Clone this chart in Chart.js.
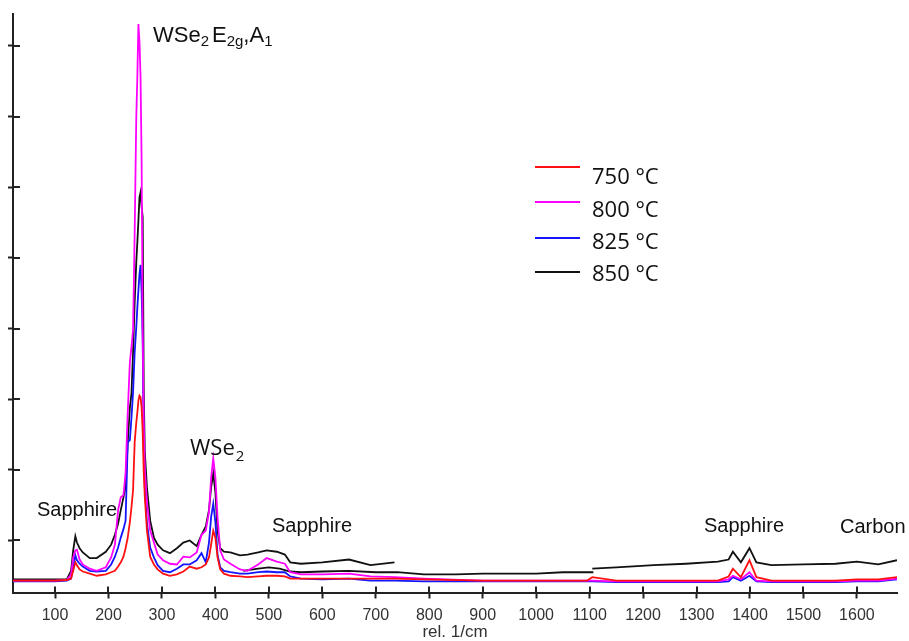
<!DOCTYPE html>
<html><head><meta charset="utf-8">
<script src="https://cdn.jsdelivr.net/npm/chart.js@4.4.1/dist/chart.umd.min.js"></script>
<style>html,body{margin:0;padding:0;background:#fff}#wrap{width:909px;height:641px;position:relative}</style>
</head><body><div id="wrap"><canvas id="c" width="909" height="641"></canvas></div>
<script>
// Raman shift (rel. 1/cm) shared by the four spectra
const wavenumbers = [20,60,100,122,130, 134,138,141,146,152, 165,178,195,205,212, 218,223,228,232,236, 240,243,246,249,252, 254,256,258,260,262, 264,266,268,272,278, 285,292,302,315,328, 340,352,365,374,382, 388,392,396,400,404, 409,416,428,446,460, 480,496,515,530,540, 560,600,650,690,735, 790,900,1000,1095,1105, 1150,1220,1280,1340,1360, 1368,1383,1399,1412,1440, 1500,1560,1600,1640,1675];
// Intensities (counts)
const i750 = [430,430,430,440,460, 570,690,650,590,560, 530,500,520,550,570, 630,690,770,890,1040, 1260,1470,1710,2390,2670, 2810,2980,3050,3030,2880, 2530,1960,1610,1140,770, 660,590,530,500,520, 560,630,600,620,660, 760,940,1140,1040,760, 590,530,500,490,480, 490,500,500,490,460, 460,460,460,460,460, 450,430,430,430,480, 430,430,430,430,490, 600,480,720,480,430, 430,430,450,450,480];
const i800 = [430,430,430,440,520, 760,860,870,730,660, 600,570,620,760,940, 1430,1610,1640,1960,2810, 3520,3740,3980,5360,6990, 7560,8310,8060,7560,6360, 3950,2670,2030,1540,1140, 970,800,720,670,660, 770,760,830,1080,1140, 1400,1890,2160,1890,1330, 860,730,670,590,570, 660,750,700,670,550, 520,520,530,490,480, 460,430,430,430,430, 420,420,420,420,450, 500,450,550,430,420, 420,420,430,430,460];
const i825 = [420,420,420,430,460, 630,790,720,670,630, 570,560,570,660,770, 900,1040,1160,1280,2390, 2420,2740,3100,3660,4020, 4300,4540,4770,4900,4510, 3810,2250,1750,1240,900, 760,650,570,550,600, 660,660,720,820,690, 970,1330,1520,1260,800, 620,570,550,530,530, 550,560,550,550,490, 460,450,460,430,430, 420,420,420,420,420, 410,410,410,410,420, 480,430,500,420,410, 410,410,420,420,450];
const i850 = [450,450,450,450,570, 860,1060,970,890,830, 750,750,840,940,1080, 1240,1430,1610,1750,2390, 2880,3080,3660,4370,4940, 5220,5530,5860,5930,5720, 5580,3100,2250,1750,1280, 1040,940,860,820,890, 970,1000,920,1080,1200, 1430,1750,1950,1680,1140, 890,840,830,790,800, 830,860,840,800,690, 670,690,730,650,690, null,null,null,null,600, 620,650,670,700,730, 840,690,890,690,650, 660,670,700,660,720];
// 850 °C: second (overlapping) measurement window
const wavenumbers850b = [452,480,500,520,540,560,600,650,700,740,790,850,900,950,1000,1050,1107];
const i850b = [570,600,620,600,560,550,560,570,550,550,520,520,530,530,530,550,550];

const seriesLabels = ['750 °C','800 °C','825 °C','850 °C'];
const xTickValues = [100,200,300,400,500,600,700,800,900,1000,1100,1200,1300,1400,1500,1600];
const yTickValues = [1000,2000,3000,4000,5000,6000,7000,8000];

const colors = ['#ff1010','#ff00ff','#1414ff','#111111'];
const toPts = (xs, ys) => xs.map((x, i) => ({x: x, y: ys[i]}));
const mk = (label, xs, ys, color) => ({label, data: toPts(xs, ys), borderColor: color, backgroundColor: color,
  borderWidth: 1.8, pointRadius: 0, tension: 0, fill: false, spanGaps: false});

const ARIAL = '"Liberation Sans", Arial, sans-serif';
const CAL = '"Open Sans", "Noto Sans", sans-serif';

function rich(ctx, x, y, parts) {
  let cx = x;
  parts.forEach(p => {
    if (p.gap) { cx += p.gap; return; }
    ctx.font = p.f;
    ctx.fillText(p.t, cx, y + (p.dy || 0));
    cx += ctx.measureText(p.t).width;
  });
}

const decor = {
  id: 'decor',
  afterDraw(chart) {
    const ctx = chart.ctx, xs = chart.scales.x, ys = chart.scales.y, ca = chart.chartArea;
    ctx.save();
    ctx.strokeStyle = '#222'; ctx.lineWidth = 2;
    xs.ticks.forEach(t => { const px = Math.round(xs.getPixelForValue(t.value)); ctx.beginPath(); ctx.moveTo(px, ca.bottom - 6); ctx.lineTo(px, ca.bottom); ctx.stroke(); });
    ys.ticks.forEach(t => { const py = Math.round(ys.getPixelForValue(t.value)); ctx.beginPath(); ctx.moveTo(ca.left, py); ctx.lineTo(ca.left + 7, py); ctx.stroke(); });
    // legend
    const lineY = [167, 202, 238, 272], textY = [184, 216.5, 248.5, 281];
    ctx.textBaseline = 'alphabetic'; ctx.textAlign = 'left';
    chart.data.datasets.slice(0, 4).forEach((ds, i) => {
      ctx.strokeStyle = ds.borderColor; ctx.lineWidth = 2;
      ctx.beginPath(); ctx.moveTo(535, lineY[i]); ctx.lineTo(580, lineY[i]); ctx.stroke();
      ctx.fillStyle = '#111'; ctx.font = '22px ' + CAL;
      ctx.fillText(ds.label, 592, textY[i]);
    });
    // annotations
    ctx.fillStyle = '#111';
    const big = '22px ' + ARIAL, sub = '15px ' + ARIAL;
    rich(ctx, 153, 41.5, [{t:'WSe', f:big}, {t:'2', f:sub, dy:4.5}, {gap:3}, {t:'E', f:big}, {t:'2g', f:sub, dy:4.5}, {t:',', f:big}, {t:'A', f:big}, {t:'1', f:sub, dy:4.5}]);
    rich(ctx, 190, 455, [{t:'WSe', f:'22px ' + CAL}, {gap:1}, {t:'2', f:'15px ' + CAL, dy:6}]);
    ctx.font = '20px ' + ARIAL;
    ctx.fillText('Sapphire', 37, 516);
    ctx.fillText('Sapphire', 272, 531.5);
    ctx.fillText('Sapphire', 704, 531.5);
    ctx.fillText('Carbon', 840, 533);
    ctx.restore();
  }
};

new Chart(document.getElementById('c'), {
  type: 'line',
  data: {
    datasets: [
      mk(seriesLabels[0], wavenumbers, i750, colors[0]),
      mk(seriesLabels[1], wavenumbers, i800, colors[1]),
      mk(seriesLabels[2], wavenumbers, i825, colors[2]),
      mk(seriesLabels[3], wavenumbers, i850, colors[3]),
      mk(seriesLabels[3] + ' (b)', wavenumbers850b, i850b, colors[3])
    ]
  },
  options: {
    responsive: false, animation: false, devicePixelRatio: 1,
    layout: {padding: {top: 14, right: 12, left: 0, bottom: 0}},
    plugins: {legend: {display: false}, tooltip: {enabled: false}},
    scales: {
      x: {
        type: 'linear', min: 21.4, max: 1675,
        afterBuildTicks: s => { s.ticks = xTickValues.map(v => ({value: v})); },
        afterFit: s => { s.height = 48.5; },
        ticks: {autoSkip: false, maxRotation: 0, minRotation: 0, padding: 7, color: '#333',
          font: {family: ARIAL, size: 16}, callback: v => String(v)},
        grid: {drawOnChartArea: false, drawTicks: true, tickLength: 6, tickColor: '#222', tickWidth: 2},
        border: {display: true, color: '#222', width: 2},
        title: {display: true, text: 'rel. 1/cm', color: '#333', padding: 0, font: {family: ARIAL, size: 17, lineHeight: 1}}
      },
      y: {
        type: 'linear', min: 263, max: 8453,
        afterBuildTicks: s => { s.ticks = yTickValues.map(v => ({value: v})); },
        afterFit: s => { s.width = 13; },
        ticks: {display: false},
        grid: {drawOnChartArea: false, drawTicks: true, tickLength: 5, tickColor: '#222', tickWidth: 2},
        border: {display: true, color: '#222', width: 2}
      }
    }
  },
  plugins: [decor]
});
</script></body></html>
